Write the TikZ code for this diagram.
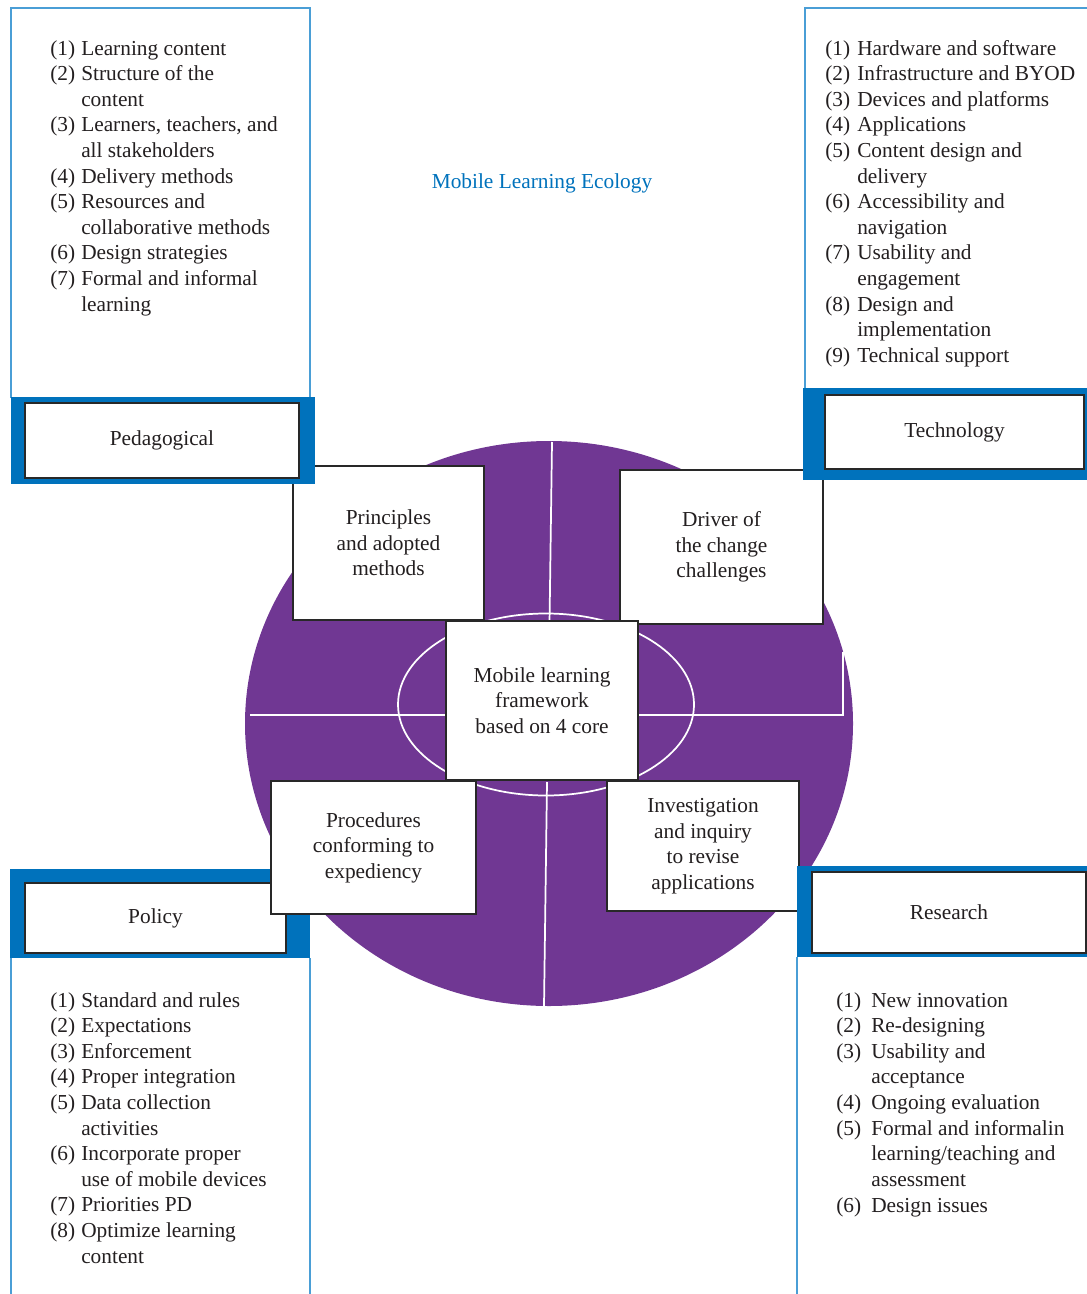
\documentclass[tikz,border=0pt]{standalone}
\usepackage{fontspec}
\setmainfont{Liberation Serif}
\usepackage{array}
\usepackage{tikz}

\begin{document}
\begin{tikzpicture}[x=0.75pt,y=0.75pt,yscale=-1,xscale=1,
    every node/.style={font=\fontsize{16}{19.2}\selectfont, text={rgb, 255:red, 35; green, 31; blue, 32 }},
    panel/.style={draw={rgb, 255:red, 74; green, 158; blue, 214 }, line width=1.5},
    band/.style={fill={rgb, 255:red, 0; green, 114; blue, 188 }},
    headbox/.style={draw={rgb, 255:red, 40; green, 40; blue, 40 }, fill=white, line width=1.5, inner sep=0},
    corebox/.style={draw={rgb, 255:red, 40; green, 40; blue, 40 }, fill=white, line width=1.2, align=center, inner sep=0},
    itemlist/.style={anchor=north west, inner sep=0},
    rim/.style={draw=white, line width=1.3}]
\useasboundingbox (0,0) rectangle (1087,1294);

%Shape: Panels
\draw [panel] (11,398) -- (11,8) -- (310,8) -- (310,398) ;
\draw [panel] (805,390) -- (805,8) -- (1090,8) ;
\draw [panel] (11,958) -- (11,1296) ;
\draw [panel] (310,958) -- (310,1296) ;
\draw [panel] (797,957) -- (797,1296) ;

%Shape: Ellipse
\fill [fill={rgb, 255:red, 112; green, 55; blue, 147 }] (549,723.5) ellipse [x radius=304, y radius=282.5] ;
\draw [rim] (546,704.5) ellipse [x radius=148, y radius=91] ;
%Straight Lines
\draw [rim] (250,715) -- (843,715) -- (843,652) ;
\draw [rim] (552,442) -- (549.5,624) ;
\draw [rim] (547,782) -- (544,1006) ;

% Text Node
\node [corebox, minimum width=191*0.75pt, minimum height=154*0.75pt] (principles) at (388.5,543) {Principles\\and adopted\\methods};
% Text Node
\node [corebox, minimum width=203*0.75pt, minimum height=154*0.75pt] (driver) at (721.5,547) {Driver of\\the change\\challenges};
% Text Node
\node [corebox, minimum width=192*0.75pt, minimum height=130*0.75pt] (inquiry) at (703,846) {Investigation\\and inquiry\\to revise\\applications};
% Text Node
\node [corebox, minimum width=192*0.75pt, minimum height=159*0.75pt] (core) at (542,700.5) {Mobile learning\\framework\\based on 4 core};

%Shape: Header bands
\fill [band] (11,397) rectangle (315,484) ;
\fill [band] (803,388) rectangle (1087,480) ;
\fill [band] (797,866) rectangle (1087,957) ;
\fill [band] (10,869) rectangle (310,958) ;

% Text Node
\node [headbox, minimum width=274*0.75pt, minimum height=75*0.75pt] (pedagogical) at (162,440.5) {Pedagogical};
% Text Node
\node [headbox, minimum width=259*0.75pt, minimum height=74*0.75pt] (technology) at (954.5,432) {Technology};
% Text Node
\node [headbox, minimum width=274*0.75pt, minimum height=81*0.75pt] (research) at (949,912.5) {Research};
% Text Node
\node [headbox, minimum width=261*0.75pt, minimum height=70*0.75pt] (policy) at (155.5,918) {Policy};

% Text Node
\node [corebox, minimum width=205*0.75pt, minimum height=133*0.75pt] (procedures) at (373.5,847.5) {Procedures\\conforming to\\expediency};

% Text Node
\node (title) at (542,183) {\color[RGB]{0,114,188}Mobile Learning Ecology};

% Text Node
\node [itemlist] (pedlist) at (50,37) {\begin{tabular}{@{}p{23.25pt}@{}l@{}}
(1) & Learning content\\
(2) & Structure of the\\
    & content\\
(3) & Learners, teachers, and\\
    & all stakeholders\\
(4) & Delivery methods\\
(5) & Resources and\\
    & collaborative methods\\
(6) & Design strategies\\
(7) & Formal and informal\\
    & learning
\end{tabular}};
% Text Node
\node [itemlist] (techlist) at (825,37) {\begin{tabular}{@{}p{24pt}@{}l@{}}
(1) & Hardware and software\\
(2) & Infrastructure and BYOD\\
(3) & Devices and platforms\\
(4) & Applications\\
(5) & Content design and\\
    & delivery\\
(6) & Accessibility and\\
    & navigation\\
(7) & Usability and\\
    & engagement\\
(8) & Design and\\
    & implementation\\
(9) & Technical support
\end{tabular}};
% Text Node
\node [itemlist] (policylist) at (50,989) {\begin{tabular}{@{}p{23.25pt}@{}l@{}}
(1) & Standard and rules\\
(2) & Expectations\\
(3) & Enforcement\\
(4) & Proper integration\\
(5) & Data collection\\
    & activities\\
(6) & Incorporate proper\\
    & use of mobile devices\\
(7) & Priorities PD\\
(8) & Optimize learning\\
    & content
\end{tabular}};
% Text Node
\node [itemlist] (reslist) at (836,989) {\begin{tabular}{@{}p{26.25pt}@{}l@{}}
(1) & New innovation\\
(2) & Re-designing\\
(3) & Usability and\\
    & acceptance\\
(4) & Ongoing evaluation\\
(5) & Formal and informalin\\
    & learning/teaching and\\
    & assessment\\
(6) & Design issues
\end{tabular}};

\end{tikzpicture}
\end{document}
